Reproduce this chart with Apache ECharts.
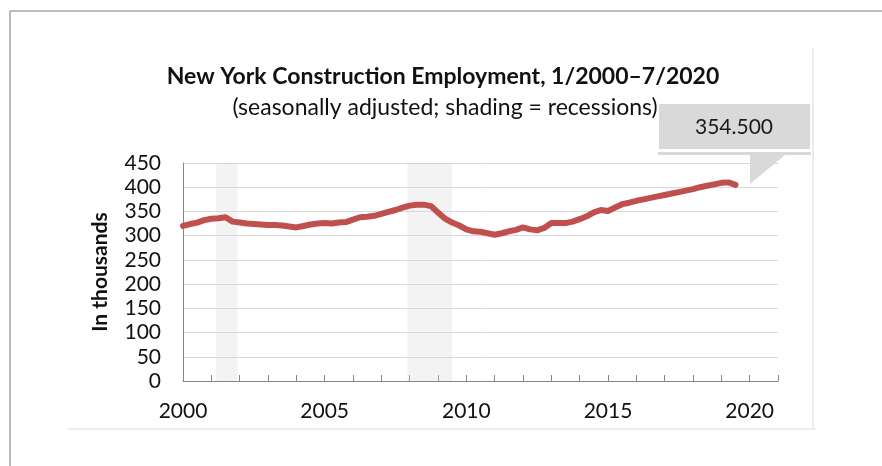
<!DOCTYPE html>
<html>
<head>
<meta charset="utf-8">
<script src="https://cdn.jsdelivr.net/npm/echarts@6/dist/echarts.min.js"></script>
<style>
html,body{margin:0;padding:0;background:#fff;}
#main{width:882px;height:466px;}
</style>
</head>
<body>
<div id="main"></div>
<script>
// quarterly values, thousands, starting 2000 Q1
const startYear = 2000
const employment = [
    320, 324, 327, 332, 335, 336, 338, 329,
    327, 325, 324, 323, 322, 322, 321, 319,
    317, 320, 323, 325, 326, 325, 327, 328,
    333, 338, 339, 341, 345, 349, 353, 358,
    362, 364, 364, 361, 348, 335, 327, 321,
    313, 309, 308, 305, 302, 305, 309, 312,
    317, 313, 311, 316, 326, 326, 326, 329,
    334, 340, 348, 353, 351, 358, 365, 368,
    372, 375, 378, 381, 384, 387, 390, 393,
    396, 400, 403, 406, 409, 410, 405
]
// recession periods (fractional years)
const recessions = [
    [2001.17, 2001.92],
    [2007.92, 2009.5]
]
const yTicks = [0, 50, 100, 150, 200, 250, 300, 350, 400, 450]
const calloutValue = '354.500'

const lineData = employment.map((v, i) => [startYear + i / 4, v])

const fontFam = 'Lato, "Open Sans", sans-serif'
const myChart = echarts.init(document.getElementById('main'))

const options = {
    animation: false,
    title: [
        {
            text: 'New York Construction Employment, 1/2000\u20137/2020',
            left: 438, top: 60, textAlign: 'center',
            textStyle: {fontFamily: fontFam, fontWeight: 'bold', fontSize: 23, color: '#111'}
        },
        {
            text: '(seasonally adjusted; shading = recessions)',
            left: 440, top: 91, textAlign: 'center',
            textStyle: {fontFamily: fontFam, fontWeight: 'normal', fontSize: 23, color: '#111'}
        }
    ],
    grid: {left: 183, right: 104, top: 163, bottom: 85, containLabel: false},
    xAxis: {
        type: 'value',
        min: 2000, max: 2021, interval: 1,
        axisLine: {lineStyle: {color: '#868686', width: 1}},
        axisTick: {inside: true, length: 6, lineStyle: {color: '#868686'}},
        splitLine: {show: false},
        axisLabel: {
            color: '#111', fontFamily: fontFam, fontSize: 21, margin: 20,
            formatter: v => (v % 5 === 0 ? String(v) : '')
        }
    },
    yAxis: {
        type: 'value',
        min: yTicks[0], max: yTicks[yTicks.length - 1], interval: 50,
        name: 'In thousands',
        nameLocation: 'middle',
        nameGap: 72,
        nameTextStyle: {fontFamily: fontFam, fontWeight: 'bold', fontSize: 21, color: '#111'},
        axisLine: {show: true, lineStyle: {color: '#868686'}},
        axisTick: {show: false},
        splitLine: {lineStyle: {color: '#d9d9d9', width: 1}},
        axisLabel: {color: '#111', fontFamily: fontFam, fontSize: 21, margin: 22}
    },
    series: [
        {
            type: 'line',
            data: lineData,
            showSymbol: false,
            lineStyle: {color: '#c0504d', width: 6, cap: 'round', join: 'round'},
            itemStyle: {color: '#c0504d'},
            z: 3,
            markArea: {
                silent: true,
                itemStyle: {color: 'rgba(215,215,215,0.3)'},
                data: recessions.map(r => [{xAxis: r[0]}, {xAxis: r[1]}])
            }
        }
    ],
    graphic: [
        // outer frame
        {type: 'line', shape: {x1: 10, y1: 11, x2: 882, y2: 11}, style: {stroke: '#a6a6a6', lineWidth: 1.5}},
        {type: 'line', shape: {x1: 10, y1: 11, x2: 10, y2: 466}, style: {stroke: '#a6a6a6', lineWidth: 1.5}},
        // chart area frame
        {type: 'line', shape: {x1: 68, y1: 429, x2: 816, y2: 429}, style: {stroke: '#d9d9d9', lineWidth: 1}},
        {type: 'line', shape: {x1: 813, y1: 48, x2: 813, y2: 429}, style: {stroke: '#d9d9d9', lineWidth: 1}},
        // callout
        {type: 'rect', shape: {x: 659, y: 104, width: 151, height: 45}, style: {fill: '#d9d9d9'}, z: 10},
        {type: 'rect', shape: {x: 658, y: 152, width: 153, height: 3}, style: {fill: '#d9d9d9'}, z: 10},
        {type: 'polygon', shape: {points: [[750, 155], [785, 155], [750, 184]]}, style: {fill: '#d9d9d9'}, z: 10},
        {
            type: 'text', x: 734, y: 127, z: 11,
            style: {text: calloutValue, fill: '#1a1a1a', font: '21px ' + fontFam, align: 'center', verticalAlign: 'middle'}
        }
    ]
}
myChart.setOption(options)
window.addEventListener('resize', function () {
    myChart.resize()
})
</script>
</body>
</html>
